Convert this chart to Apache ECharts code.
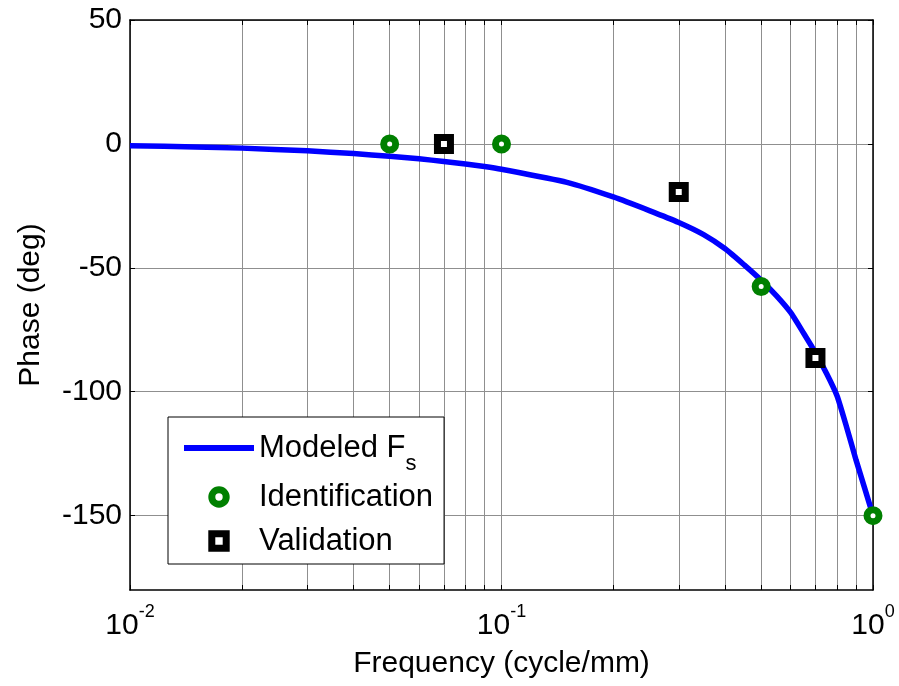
<!DOCTYPE html>
<html>
<head>
<meta charset="utf-8">
<script src="https://cdn.jsdelivr.net/npm/echarts@6/dist/echarts.min.js"></script>
<style>
  html, body { margin: 0; padding: 0; background: #ffffff; }
  #chart { width: 899px; height: 686px; }
</style>
</head>
<body>
<div id="chart"></div>
<script>
// ---- data ----
var modelFreq  = [0.01, 0.015, 0.02, 0.03, 0.04, 0.05, 0.06, 0.07, 0.08, 0.09, 0.1, 0.15, 0.2, 0.25, 0.3, 0.35, 0.4, 0.45, 0.5, 0.55, 0.6, 0.65, 0.7, 0.75, 0.8, 0.85, 0.9, 0.95, 1.0];
var modelPhase = [-0.7, -1.2, -1.7, -2.8, -3.9, -5.0, -6.0, -7.1, -8.1, -9.1, -10.2, -15.5, -21.4, -26.9, -31.7, -36.6, -42.3, -48.8, -55.0, -61.3, -68.0, -76.3, -84.3, -92.6, -101.6, -114.5, -127.5, -139.0, -150.0];
var identFreq  = [0.05, 0.1, 0.5, 1.0];
var identPhase = [0, 0, -57.5, -150];
var validFreq  = [0.07, 0.3, 0.7];
var validPhase = [0, -19.4, -86.4];
var xTickValues  = [0.01, 0.02, 0.03, 0.04, 0.05, 0.06, 0.07, 0.08, 0.09, 0.1, 0.2, 0.3, 0.4, 0.5, 0.6, 0.7, 0.8, 0.9, 1];
var xLabelValues = [0.01, 0.1, 1];
var yTickValues  = [-150, -100, -50, 0, 50];
var seriesNames  = ['Modeled Fs', 'Identification', 'Validation'];
var xAxisTitle = 'Frequency (cycle/mm)';
var yAxisTitle = 'Phase (deg)';

function pairs(xs, ys) { return xs.map(function (x, i) { return [x, ys[i]]; }); }

var FONT = '"Liberation Sans", Arial, sans-serif';
var chart = echarts.init(document.getElementById('chart'), null, { renderer: 'canvas' });

var gridColor = '#8f8f8f';
var blue = '#0000ff', green = '#008000', black = '#000000';

var option = {
  animation: false,
  backgroundColor: '#ffffff',
  textStyle: { fontFamily: FONT, color: '#000' },
  grid: { left: 130, right: 26, top: 20, bottom: 96, containLabel: false },
  xAxis: [{
    type: 'log', logBase: 10, min: 0.01, max: 1, position: 'bottom',
    name: xAxisTitle, nameLocation: 'middle', nameGap: 59,
    nameTextStyle: { fontSize: 30, color: '#000', fontFamily: FONT },
    axisLine: { show: true, onZero: false, lineStyle: { color: '#000', width: 1.5 } },
    axisTick: { show: true, inside: true, length: 5, customValues: xTickValues, lineStyle: { color: '#000', width: 1 } },
    axisLabel: {
      show: true, customValues: xLabelValues, margin: 13, hideOverlap: false,
      formatter: function (v) { return '{b|10}{s|' + Math.round(Math.log10(v)) + '}'; },
      rich: {
        b: { fontSize: 30, lineHeight: 46, fontFamily: FONT, color: '#000' },
        s: { fontSize: 18, lineHeight: 20, verticalAlign: 'top', fontFamily: FONT, color: '#000' }
      }
    },
    splitLine: { show: true, lineStyle: { color: gridColor, width: 1 } }
  }, {
    type: 'log', logBase: 10, min: 0.01, max: 1, position: 'top',
    axisLine: { show: true, onZero: false, lineStyle: { color: '#000', width: 1.5 } },
    axisTick: { show: true, inside: true, length: 5, customValues: xTickValues, lineStyle: { color: '#000', width: 1 } },
    axisLabel: { show: false },
    splitLine: { show: false }
  }],
  yAxis: [{
    type: 'value', min: -180, max: 50, position: 'left',
    name: yAxisTitle, nameLocation: 'middle', nameGap: 84, nameRotate: 90,
    nameTextStyle: { fontSize: 30, color: '#000', fontFamily: FONT },
    axisLine: { show: true, onZero: false, lineStyle: { color: '#000', width: 1.5 } },
    axisTick: { show: true, inside: true, length: 5, customValues: yTickValues, lineStyle: { color: '#000', width: 1 } },
    axisLabel: { show: true, customValues: yTickValues, margin: 8, fontSize: 30, color: '#000', fontFamily: FONT },
    splitLine: { show: true, lineStyle: { color: gridColor, width: 1 } }
  }, {
    type: 'value', min: -180, max: 50, position: 'right',
    axisLine: { show: true, onZero: false, lineStyle: { color: '#000', width: 1.5 } },
    axisTick: { show: true, inside: true, length: 5, customValues: yTickValues, lineStyle: { color: '#000', width: 1 } },
    axisLabel: { show: false },
    splitLine: { show: false }
  }],
  legend: {
    orient: 'vertical', left: 168, top: 417,
    padding: [14, 11, 1, 13], itemGap: 0,
    itemWidth: 70, itemHeight: 18,
    backgroundColor: '#ffffff', borderColor: '#000', borderWidth: 1, borderRadius: 0,
    selectedMode: false, z: 10,
    data: [
      { name: seriesNames[0], itemStyle: { opacity: 0 }, lineStyle: { color: blue, width: 6, opacity: 1 } },
      { name: seriesNames[1], itemStyle: { color: '#ffffff', borderColor: green, borderWidth: 7, opacity: 1 }, lineStyle: { opacity: 0 } },
      { name: seriesNames[2], itemStyle: { color: '#ffffff', borderColor: black, borderWidth: 7, opacity: 1 }, lineStyle: { opacity: 0 } }
    ],
    formatter: function (name) {
      if (name === seriesNames[0]) return '{m|Modeled F}{s|s}';
      return name;
    },
    textStyle: {
      fontSize: 31, lineHeight: 44, color: '#000', fontFamily: FONT,
      rich: {
        m: { fontSize: 31, lineHeight: 34, fontFamily: FONT, color: '#000' },
        s: { fontSize: 22, lineHeight: 22, padding: [22, 0, 0, 0], verticalAlign: 'top', fontFamily: FONT, color: '#000' }
      }
    }
  },
  series: [{
    name: seriesNames[0], type: 'line',
    data: pairs(modelFreq, modelPhase),
    symbol: 'none', showSymbol: false, smooth: 0.2,
    lineStyle: { color: blue, width: 5.5 },
    itemStyle: { color: blue },
    z: 3
  }, {
    name: seriesNames[1], type: 'line',
    data: pairs(identFreq, identPhase),
    symbol: 'circle', symbolSize: 12, showSymbol: true, clip: false,
    lineStyle: { opacity: 0, width: 0 },
    itemStyle: { color: '#ffffff', borderColor: green, borderWidth: 7, opacity: 1 },
    z: 4
  }, {
    name: seriesNames[2], type: 'line',
    data: pairs(validFreq, validPhase),
    symbol: 'rect', symbolSize: 13, showSymbol: true, clip: false,
    lineStyle: { opacity: 0, width: 0 },
    itemStyle: { color: '#ffffff', borderColor: black, borderWidth: 7, opacity: 1 },
    z: 4
  }]
};
chart.setOption(option);
</script>
</body>
</html>
